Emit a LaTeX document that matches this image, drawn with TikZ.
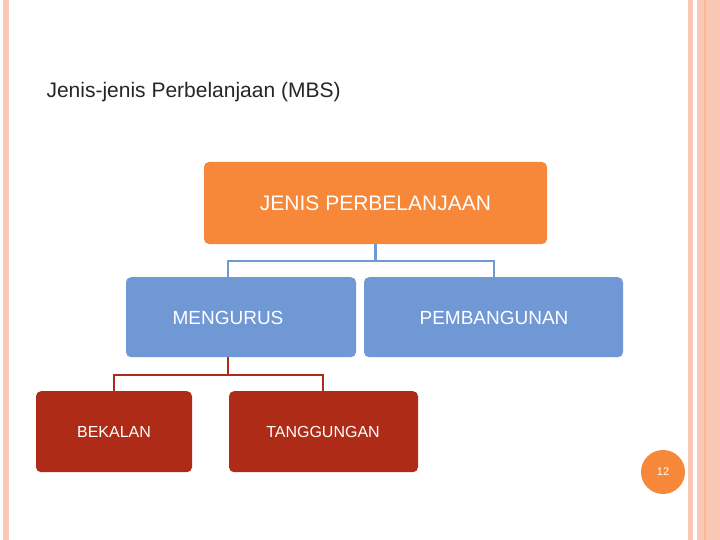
\documentclass[tikz,border=0pt]{standalone}
\usepackage{fontspec}
\setmainfont{Liberation Sans}
\begin{document}
\begin{tikzpicture}[x=1pt,y=-1pt,
  box/.style={rounded corners=5pt,text=white,inner sep=0pt},
  bl/.style={line width=2.5pt,draw=blue!40!gray!80},
]
\definecolor{orng}{HTML}{F7883A}
\definecolor{blu}{HTML}{7098D4}
\definecolor{rd}{HTML}{AE2B17}
\definecolor{peach}{HTML}{F9C8B4}
\useasboundingbox (0,0) rectangle (720,540);
\fill[white] (0,0) rectangle (720,540);
\fill[peach] (3,0) rectangle (9,540);
\fill[peach] (688,0) rectangle (693,540);
\fill[peach] (697,0) rectangle (720,540);
\fill[peach!80!orange] (704,0) rectangle (706,540);
\node[anchor=west,font=\fontsize{21}{24}\selectfont,text=black!85] (title) at (43,92) {Jenis-jenis Perbelanjaan (MBS)};
\node[box,fill=orng,minimum width=343,minimum height=82,font=\fontsize{21}{24}\selectfont] (j) at (375.5,203) {JENIS PERBELANJAAN};
\node[box,fill=blu,minimum width=230,minimum height=80,font=\fontsize{19}{22}\selectfont,anchor=north] (m) at (241,277) {};
\node[font=\fontsize{19}{22}\selectfont,text=white] (mt) at (228,318) {MENGURUS};
\node[box,fill=blu,minimum width=259,minimum height=80,font=\fontsize{19}{22}\selectfont,anchor=north] (p) at (493.5,277) {};
\node[font=\fontsize{19}{22}\selectfont,text=white] (pt) at (494,318) {PEMBANGUNAN};
\node[box,fill=rd,minimum width=156,minimum height=81,anchor=north] (b) at (114,391) {};
\node[font=\fontsize{16}{19}\selectfont,text=white] (bt) at (114,432) {BEKALAN};
\node[box,fill=rd,minimum width=189,minimum height=81,anchor=north] (t) at (323.5,391) {};
\node[font=\fontsize{16}{19}\selectfont,text=white] (tt) at (323,432) {TANGGUNGAN};
\node[circle,fill=orng,minimum size=44,inner sep=0pt,text=white,font=\fontsize{11}{13}\selectfont] (n) at (663,472) {12};
\draw[line width=2.5pt,draw=blu] (j.south) -- ++(0,17) -| (228,277);
\draw[line width=2.5pt,draw=blu] (375,261) -| (494,277);
\draw[line width=2.5pt,draw=rd] (228,357) -- (228,375) -| (114,391);
\draw[line width=2.5pt,draw=rd] (228,375) -| (323,391);
\end{tikzpicture}
\end{document}
